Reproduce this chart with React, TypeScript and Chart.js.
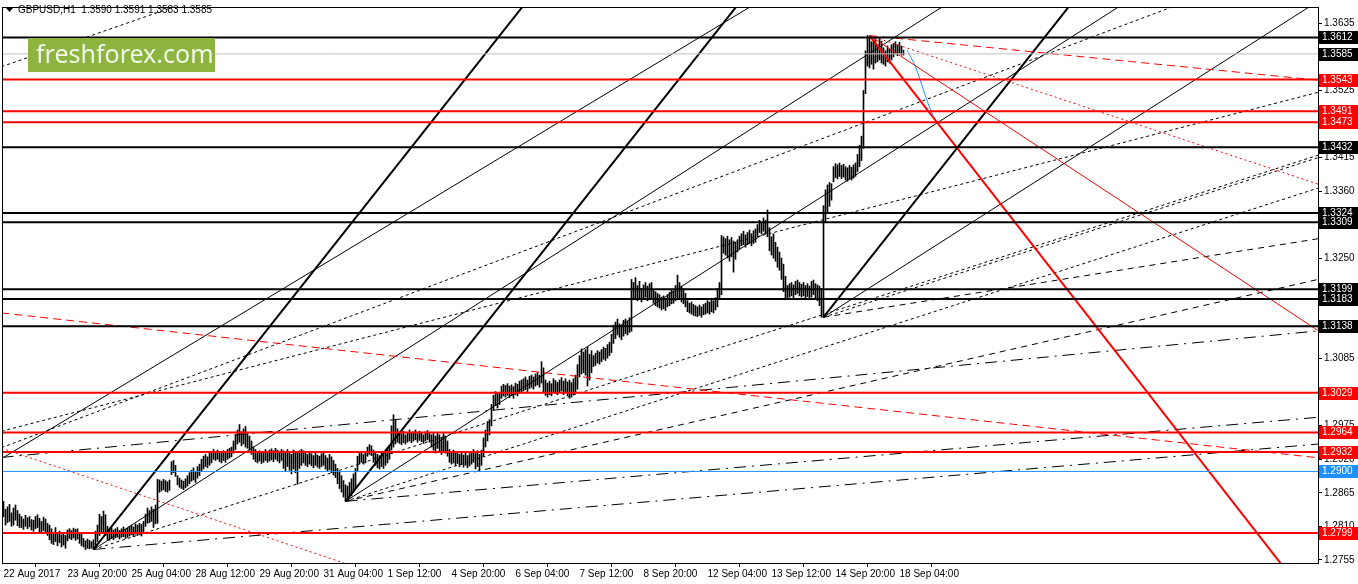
import React, { useEffect, useRef } from 'react';
import { Chart, registerables } from 'chart.js';

Chart.register(...registerables);

// ---------- DATA ----------
const title = 'GBPUSD,H1  1.3590 1.3591 1.3583 1.3585';

const xTickBars = [0, 32, 64, 96, 128, 160, 192, 224, 256, 288, 320, 352, 384, 416, 448];
const xLabels = [
  '22 Aug 2017', '23 Aug 20:00', '25 Aug 04:00', '28 Aug 12:00', '29 Aug 20:00',
  '31 Aug 04:00', '1 Sep 12:00', '4 Sep 20:00', '6 Sep 04:00', '7 Sep 12:00',
  '8 Sep 20:00', '12 Sep 04:00', '13 Sep 12:00', '14 Sep 20:00', '18 Sep 04:00',
];

const yTicks = [
  1.2755, 1.281, 1.2865, 1.292, 1.2975, 1.303, 1.3085, 1.314, 1.3195,
  1.325, 1.3305, 1.336, 1.3415, 1.347, 1.3525, 1.358, 1.3635,
];

const highs = [
  1.2851, 1.2838, 1.2842, 1.2846, 1.2832, 1.2840, 1.2845, 1.2836, 1.2830, 1.2826,
  1.2822, 1.2828, 1.2824, 1.2826, 1.2821, 1.2820, 1.2826, 1.2829, 1.2823, 1.2818,
  1.2825, 1.2822, 1.2815, 1.2812, 1.2806, 1.2800, 1.2808, 1.2798, 1.2802, 1.2796,
  1.2800, 1.2795, 1.2804, 1.2806, 1.2803, 1.2807, 1.2805, 1.2806, 1.2800, 1.2797,
  1.2790, 1.2786, 1.2789, 1.2787, 1.2785, 1.2788, 1.2802, 1.2812, 1.2830, 1.2826,
  1.2835, 1.2829, 1.2810, 1.2805, 1.2808, 1.2804, 1.2806, 1.2808, 1.2803, 1.2806,
  1.2809, 1.2805, 1.2807, 1.2810, 1.2812, 1.2809, 1.2814, 1.2812, 1.2815, 1.2813,
  1.2818, 1.2830, 1.2840, 1.2836, 1.2842, 1.2838, 1.2845, 1.2887, 1.2886, 1.2884,
  1.2887, 1.2885, 1.2883, 1.2886, 1.2916, 1.2918, 1.2910, 1.2893, 1.2889, 1.2886,
  1.2884, 1.2888, 1.2893, 1.2898, 1.2902, 1.2906, 1.2900, 1.2908, 1.2912, 1.2920,
  1.2925, 1.2928, 1.2924, 1.2930, 1.2932, 1.2936, 1.2933, 1.2935, 1.2932, 1.2930,
  1.2934, 1.2931, 1.2936, 1.2938, 1.2940, 1.2950, 1.2960, 1.2968, 1.2977, 1.2965,
  1.2970, 1.2974, 1.2962, 1.2958, 1.2950, 1.2940, 1.2936, 1.2932, 1.2934, 1.2930,
  1.2933, 1.2936, 1.2932, 1.2935, 1.2937, 1.2934, 1.2938, 1.2935, 1.2932, 1.2936,
  1.2934, 1.2932, 1.2936, 1.2930, 1.2928, 1.2935, 1.2932, 1.2930, 1.2934, 1.2936,
  1.2934, 1.2930, 1.2928, 1.2932, 1.2929, 1.2926, 1.2930, 1.2927, 1.2925, 1.2929,
  1.2931, 1.2926, 1.2922, 1.2928, 1.2924, 1.2918, 1.2912, 1.2905, 1.2900, 1.2893,
  1.2885, 1.2878, 1.2876, 1.2882, 1.2888, 1.2896, 1.2905, 1.2925, 1.2930, 1.2933,
  1.2928, 1.2932, 1.2940, 1.2944, 1.2942, 1.2935, 1.2930, 1.2928, 1.2926, 1.2930,
  1.2927, 1.2934, 1.2938, 1.2942, 1.2975, 1.2993, 1.2985, 1.2970, 1.2965, 1.2962,
  1.2966, 1.2960, 1.2964, 1.2968, 1.2963, 1.2965, 1.2968, 1.2962, 1.2966, 1.2964,
  1.2960, 1.2965, 1.2967, 1.2963, 1.2960, 1.2962, 1.2958, 1.2964, 1.2960, 1.2956,
  1.2962, 1.2958, 1.2950, 1.2936, 1.2932, 1.2935, 1.2930, 1.2933, 1.2928, 1.2931,
  1.2927, 1.2930, 1.2926, 1.2929, 1.2933, 1.2936, 1.2930, 1.2934, 1.2928, 1.2935,
  1.2955, 1.2968, 1.2982, 1.2985, 1.3010, 1.3025, 1.3031, 1.3028, 1.3030, 1.3040,
  1.3043, 1.3041, 1.3044, 1.3040, 1.3042, 1.3039, 1.3045, 1.3043, 1.3048, 1.3050,
  1.3052, 1.3055, 1.3050, 1.3056, 1.3058, 1.3055, 1.3060, 1.3062, 1.3058, 1.3080,
  1.3070, 1.3050, 1.3045, 1.3048, 1.3044, 1.3052, 1.3049, 1.3046, 1.3050, 1.3054,
  1.3048, 1.3052, 1.3047, 1.3050, 1.3046, 1.3052, 1.3058, 1.3075, 1.3090, 1.3101,
  1.3096, 1.3100, 1.3104, 1.3092, 1.3098, 1.3090, 1.3094, 1.3098, 1.3096, 1.3100,
  1.3104, 1.3102, 1.3108, 1.3112, 1.3125, 1.3140, 1.3145, 1.3150, 1.3142, 1.3138,
  1.3148, 1.3150, 1.3146, 1.3152, 1.3215, 1.3210, 1.3218, 1.3205, 1.3212, 1.3200,
  1.3206, 1.3210, 1.3204, 1.3208, 1.3210, 1.3198, 1.3195, 1.3192, 1.3190, 1.3186,
  1.3188, 1.3184, 1.3190, 1.3194, 1.3198, 1.3196, 1.3205, 1.3222, 1.3210, 1.3204,
  1.3200, 1.3192, 1.3180, 1.3176, 1.3178, 1.3174, 1.3172, 1.3170, 1.3173, 1.3170,
  1.3174, 1.3176, 1.3180, 1.3178, 1.3182, 1.3180, 1.3185, 1.3200, 1.3210, 1.3287,
  1.3285, 1.3282, 1.3286, 1.3280, 1.3284, 1.3278, 1.3276, 1.3280, 1.3286, 1.3290,
  1.3294, 1.3288, 1.3292, 1.3296, 1.3290, 1.3295, 1.3298, 1.3305, 1.3312, 1.3308,
  1.3316, 1.3312, 1.3329, 1.3300, 1.3285, 1.3290, 1.3276, 1.3268, 1.3260, 1.3250,
  1.3240, 1.3220, 1.3205, 1.3208, 1.3210, 1.3206, 1.3212, 1.3214, 1.3210, 1.3207,
  1.3210, 1.3205, 1.3208, 1.3204, 1.3212, 1.3214, 1.3208, 1.3206, 1.3204, 1.3200,
  1.3336, 1.3362, 1.3370, 1.3374, 1.3372, 1.3400, 1.3405, 1.3403, 1.3406, 1.3402,
  1.3404, 1.3400, 1.3398, 1.3402, 1.3399, 1.3403, 1.3406, 1.3420, 1.3435, 1.3450,
  1.3525, 1.3590, 1.3615, 1.3612, 1.3605, 1.3608, 1.3610, 1.3600, 1.3612, 1.3606,
  1.3595, 1.3590, 1.3598, 1.3593, 1.3600, 1.3602, 1.3605, 1.3600, 1.3604, 1.3598,
  1.3591,
];

const lows = [
  1.2826, 1.2812, 1.2816, 1.2818, 1.2810, 1.2812, 1.2820, 1.2811, 1.2808, 1.2808,
  1.2805, 1.2810, 1.2806, 1.2809, 1.2804, 1.2802, 1.2806, 1.2808, 1.2800, 1.2798,
  1.2803, 1.2800, 1.2795, 1.2788, 1.2782, 1.2780, 1.2785, 1.2778, 1.2783, 1.2776,
  1.2779, 1.2774, 1.2786, 1.2790, 1.2788, 1.2791, 1.2787, 1.2789, 1.2782, 1.2778,
  1.2776, 1.2772, 1.2774, 1.2773, 1.2774, 1.2772, 1.2775, 1.2785, 1.2795, 1.2798,
  1.2800, 1.2795, 1.2788, 1.2787, 1.2790, 1.2788, 1.2791, 1.2792, 1.2789, 1.2792,
  1.2793, 1.2790, 1.2792, 1.2794, 1.2796, 1.2793, 1.2797, 1.2795, 1.2797, 1.2794,
  1.2800, 1.2810, 1.2815, 1.2816, 1.2818, 1.2808, 1.2814, 1.2815, 1.2866, 1.2868,
  1.2870, 1.2867, 1.2866, 1.2869, 1.2895, 1.2898, 1.2892, 1.2878, 1.2874, 1.2872,
  1.2870, 1.2873, 1.2876, 1.2880, 1.2884, 1.2886, 1.2882, 1.2889, 1.2893, 1.2900,
  1.2904, 1.2908, 1.2906, 1.2910, 1.2914, 1.2920, 1.2918, 1.2920, 1.2916, 1.2914,
  1.2918, 1.2915, 1.2920, 1.2922, 1.2924, 1.2930, 1.2936, 1.2945, 1.2948, 1.2942,
  1.2945, 1.2940, 1.2938, 1.2935, 1.2928, 1.2920, 1.2916, 1.2914, 1.2917, 1.2913,
  1.2915, 1.2918, 1.2915, 1.2917, 1.2919, 1.2916, 1.2920, 1.2917, 1.2914, 1.2918,
  1.2905, 1.2900, 1.2908, 1.2902, 1.2896, 1.2904, 1.2898, 1.2879, 1.2905, 1.2910,
  1.2914, 1.2910, 1.2908, 1.2912, 1.2909, 1.2906, 1.2910, 1.2907, 1.2905, 1.2908,
  1.2910, 1.2904, 1.2900, 1.2903, 1.2898, 1.2894, 1.2890, 1.2880, 1.2872, 1.2866,
  1.2858, 1.2851, 1.2853, 1.2856, 1.2860, 1.2866, 1.2872, 1.2900, 1.2912, 1.2915,
  1.2912, 1.2914, 1.2925, 1.2928, 1.2926, 1.2915, 1.2910, 1.2906, 1.2904, 1.2908,
  1.2905, 1.2910, 1.2914, 1.2920, 1.2935, 1.2940, 1.2945, 1.2948, 1.2946, 1.2944,
  1.2947, 1.2945, 1.2948, 1.2950, 1.2947, 1.2950, 1.2952, 1.2948, 1.2951, 1.2949,
  1.2946, 1.2950, 1.2952, 1.2948, 1.2940, 1.2935, 1.2930, 1.2938, 1.2932, 1.2928,
  1.2934, 1.2930, 1.2925, 1.2915, 1.2912, 1.2914, 1.2910, 1.2913, 1.2908, 1.2911,
  1.2907, 1.2910, 1.2906, 1.2909, 1.2912, 1.2915, 1.2904, 1.2908, 1.2900, 1.2910,
  1.2925, 1.2940, 1.2950, 1.2960, 1.2975, 1.3000, 1.3008, 1.3004, 1.3010, 1.3020,
  1.3024, 1.3022, 1.3025, 1.3021, 1.3024, 1.3020, 1.3026, 1.3024, 1.3028, 1.3030,
  1.3032, 1.3034, 1.3030, 1.3036, 1.3038, 1.3035, 1.3040, 1.3042, 1.3038, 1.3045,
  1.3030, 1.3025, 1.3022, 1.3026, 1.3024, 1.3030, 1.3028, 1.3026, 1.3030, 1.3032,
  1.3026, 1.3030, 1.3024, 1.3020, 1.3022, 1.3026, 1.3030, 1.3035, 1.3055, 1.3060,
  1.3062, 1.3058, 1.3040, 1.3050, 1.3062, 1.3072, 1.3074, 1.3078, 1.3076, 1.3080,
  1.3084, 1.3082, 1.3086, 1.3090, 1.3095, 1.3110, 1.3118, 1.3124, 1.3120, 1.3116,
  1.3122, 1.3126, 1.3124, 1.3128, 1.3130, 1.3182, 1.3185, 1.3180, 1.3184, 1.3178,
  1.3182, 1.3186, 1.3180, 1.3184, 1.3182, 1.3176, 1.3172, 1.3170, 1.3168, 1.3165,
  1.3167, 1.3164, 1.3170, 1.3172, 1.3175, 1.3176, 1.3180, 1.3185, 1.3182, 1.3178,
  1.3175, 1.3170, 1.3162, 1.3160, 1.3158, 1.3156, 1.3155, 1.3154, 1.3156, 1.3153,
  1.3157, 1.3158, 1.3160, 1.3158, 1.3162, 1.3160, 1.3165, 1.3170, 1.3185, 1.3190,
  1.3258, 1.3255, 1.3250, 1.3245, 1.3252, 1.3227, 1.3248, 1.3260, 1.3265, 1.3270,
  1.3272, 1.3268, 1.3272, 1.3274, 1.3270, 1.3274, 1.3276, 1.3285, 1.3292, 1.3290,
  1.3294, 1.3290, 1.3285, 1.3262, 1.3255, 1.3250, 1.3245, 1.3235, 1.3230, 1.3215,
  1.3195, 1.3182, 1.3183, 1.3186, 1.3188, 1.3185, 1.3190, 1.3192, 1.3188, 1.3186,
  1.3188, 1.3185, 1.3187, 1.3184, 1.3186, 1.3190, 1.3182, 1.3180, 1.3172, 1.3153,
  1.3153, 1.3310, 1.3325, 1.3335, 1.3345, 1.3375, 1.3382, 1.3380, 1.3384, 1.3380,
  1.3383, 1.3378, 1.3376, 1.3380, 1.3378, 1.3381, 1.3384, 1.3392, 1.3400, 1.3410,
  1.3430, 1.3520, 1.3565, 1.3562, 1.3568, 1.3560, 1.3570, 1.3572, 1.3575, 1.3570,
  1.3568, 1.3565, 1.3572, 1.3570, 1.3575, 1.3580, 1.3585, 1.3582, 1.3586, 1.3583,
  1.3583,
];

// horizontal levels (price)
const blackLevels = [1.3612, 1.3432, 1.3324, 1.3309, 1.3199, 1.3183, 1.3138];
const redLevels = [1.3543, 1.3491, 1.3473, 1.3029, 1.2964, 1.2932, 1.2799];
const blueLevels = [1.29];
const currentPrice = 1.3585;

// trend lines: [barIndex1, price1, barIndex2, price2]
const blackThickLines = [
  [45, 1.2772, 270, 1.3706],
  [171, 1.2851, 380, 1.3719],
  [410, 1.3153, 560, 1.3776],
];
const blackThinLines = [
  [45, 1.2772, 700, 1.4146],
  [171, 1.2851, 700, 1.3961],
  [410, 1.3153, 700, 1.3761],
  [-1, 1.2921, 400, 1.3715],
];
const blackDottedLines = [
  [45, 1.2772, 700, 1.3464],
  [171, 1.2851, 700, 1.341],
  [410, 1.3153, 700, 1.346],
  [-1, 1.2966, 700, 1.3558],
  [-1, 1.2939, 700, 1.3805],
  [-1, 1.3564, 100, 1.3679],
];
const blackDashedLines = [
  [171, 1.2851, 700, 1.3247],
  [410, 1.3153, 700, 1.3304],
];
const blackDashDotLines = [
  [45, 1.2772, 700, 1.2957],
  [171, 1.2851, 700, 1.3001],
  [-1, 1.2923, 700, 1.3144],
];
const redThickLines = [[433, 1.3615, 660, 1.2659]];
const redThinLines = [[433, 1.3615, 700, 1.3039]];
const redDottedLines = [
  [433, 1.3615, 700, 1.3325],
  [-1, 1.2938, 180, 1.2739],
];
const redDashedLines = [
  [433, 1.3615, 700, 1.3528],
  [-1, 1.316, 700, 1.2907],
];
const blueProjection = [
  [451.75, 1.3591],
  [455.75, 1.3566],
  [459.25, 1.3533],
  [462.25, 1.3504],
  [465.25, 1.348],
];

// ---------- CHART ----------
const FONT = '"Liberation Sans", Arial, sans-serif';

function segDatasets(lines: number[][], color: string, width: number, dash: number[]) {
  return lines.map((l) => ({
    type: 'line' as const,
    data: [
      { x: l[0], y: l[1] },
      { x: l[2], y: l[3] },
    ],
    borderColor: color,
    borderWidth: width,
    borderDash: dash,
    pointRadius: 0,
    fill: false,
    tension: 0,
    order: 1,
  }));
}

function levelDatasets(levels: number[], color: string, width: number) {
  return levels.map((p) => ({
    type: 'line' as const,
    data: [
      { x: -5, y: p },
      { x: 700, y: p },
    ],
    borderColor: color,
    borderWidth: width,
    pointRadius: 0,
    fill: false,
    order: 0,
  }));
}

const overlayPlugin = {
  id: 'overlay',
  afterDraw(chart: any) {
    const { ctx, chartArea: a, scales } = chart;
    const ys = scales.y;
    ctx.save();
    ctx.strokeStyle = '#000';
    ctx.lineWidth = 1;
    ctx.strokeRect(a.left - 0.5, a.top - 0.5, a.right - a.left + 1, a.bottom - a.top + 1);

    ctx.fillStyle = '#8cb43f';
    ctx.fillRect(28, 38, 187, 34);
    ctx.fillStyle = '#f3f7ea';
    ctx.font = `25px "Noto Sans", "Open Sans", sans-serif`;
    ctx.textBaseline = 'alphabetic';
    ctx.textAlign = 'left';
    ctx.fillText('freshforex.com', 36, 63);

    ctx.fillStyle = '#000';
    ctx.beginPath();
    ctx.moveTo(6, 8);
    ctx.lineTo(13, 8);
    ctx.lineTo(9.5, 12);
    ctx.closePath();
    ctx.fill();
    ctx.font = `10px ${FONT}`;
    ctx.textBaseline = 'middle';
    ctx.fillText(title, 18, 10.5);

    const boxes: [number, string][] = [
      ...blackLevels.map((p) => [p, '#000000'] as [number, string]),
      [currentPrice, '#000000'],
      ...redLevels.map((p) => [p, '#ff0000'] as [number, string]),
      ...blueLevels.map((p) => [p, '#1e90ff'] as [number, string]),
    ];
    for (const [p, col] of boxes) {
      const y = Math.round(ys.getPixelForValue(p));
      ctx.fillStyle = col;
      ctx.fillRect(a.right + 1, y - 6, 40, 13);
      ctx.fillStyle = '#fff';
      ctx.font = `10px ${FONT}`;
      ctx.textBaseline = 'middle';
      ctx.fillText(p.toFixed(4), a.right + 4, y + 0.5);
    }
    ctx.restore();
  },
};

export default function App() {
  const ref = useRef<HTMLCanvasElement>(null);

  useEffect(() => {
    document.body.style.margin = '0';
    const canvas = ref.current;
    if (!canvas) return;

    const bars = highs.map((h, i) => ({ x: i, y: [lows[i], h] }));

    const datasets: any[] = [
      ...levelDatasets(blackLevels, '#000000', 2),
      ...levelDatasets(redLevels, '#ff0000', 2),
      ...levelDatasets(blueLevels, '#1e90ff', 1),
      ...levelDatasets([currentPrice], '#c0c0c0', 1),
      ...segDatasets(redThickLines, '#ff0000', 2, []),
      ...segDatasets(redThinLines, '#ff0000', 1, []),
      ...segDatasets(redDottedLines, '#ff0000', 1, [2, 3]),
      ...segDatasets(redDashedLines, '#ff0000', 1, [8, 5]),
      ...segDatasets(blackThickLines, '#000000', 2, []),
      ...segDatasets(blackThinLines, '#000000', 1, []),
      ...segDatasets(blackDottedLines, '#000000', 1, [3, 3]),
      ...segDatasets(blackDashedLines, '#000000', 1, [6, 5]),
      ...segDatasets(blackDashDotLines, '#000000', 1, [12, 6, 2, 6]),
      {
        type: 'line',
        data: blueProjection.map((p) => ({ x: p[0], y: p[1] })),
        borderColor: '#1e90ff',
        borderWidth: 1,
        pointRadius: 0,
        fill: false,
        tension: 0.3,
        order: 0,
      },
      {
        type: 'bar',
        data: bars,
        backgroundColor: '#000000',
        borderWidth: 0,
        barThickness: 1,
        grouped: false,
        order: 10,
      },
    ];

    const chart = new Chart(canvas, {
      type: 'bar',
      data: { datasets },
      options: {
        animation: false,
        responsive: false,
        maintainAspectRatio: false,
        events: [],
        layout: { padding: { left: 3, top: 3, right: 0, bottom: 0 } },
        plugins: { legend: { display: false }, tooltip: { enabled: false } },
        scales: {
          x: {
            type: 'linear',
            min: -0.25,
            max: 657.25,
            offset: false,
            position: 'bottom',
            grid: { display: true, drawOnChartArea: false, drawTicks: true, tickLength: 4, color: '#000' },
            border: { display: true, color: '#000' },
            ticks: {
              autoSkip: false,
              maxRotation: 0,
              minRotation: 0,
              align: 'start',
              padding: 1,
              color: '#000',
              font: { family: FONT, size: 10 },
              callback: (v: any) => {
                const k = xTickBars.indexOf(Number(v));
                return k >= 0 ? xLabels[k] : '';
              },
            },
            afterBuildTicks: (s: any) => {
              s.ticks = xTickBars.map((v) => ({ value: v }));
            },
            afterFit: (s: any) => {
              s.height = 21;
            },
          },
          y: {
            type: 'linear',
            position: 'right',
            min: 1.27498,
            max: 1.36603,
            grid: { display: true, drawOnChartArea: false, drawTicks: true, tickLength: 4, color: '#000' },
            border: { display: true, color: '#000' },
            ticks: {
              autoSkip: false,
              padding: 2,
              color: '#000',
              font: { family: FONT, size: 10 },
              callback: (v: any) => Number(v).toFixed(4),
            },
            afterBuildTicks: (s: any) => {
              s.ticks = yTicks.map((v) => ({ value: v }));
            },
            afterFit: (s: any) => {
              s.width = 40;
            },
          },
        },
      },
      plugins: [overlayPlugin],
    } as any);

    return () => chart.destroy();
  }, []);

  return (
    <div style={{ width: 1358, height: 584, background: '#fff' }}>
      <canvas ref={ref} width={1358} height={584} style={{ display: 'block', width: 1358, height: 584 }} />
    </div>
  );
}
